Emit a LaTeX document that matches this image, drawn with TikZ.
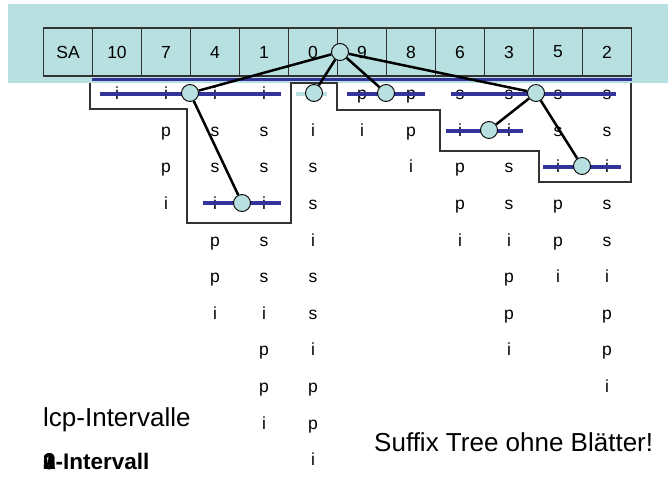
\documentclass[tikz,border=0pt]{standalone}
\usepackage{fontspec}
\setmainfont{Liberation Sans}
\definecolor{bgteal}{HTML}{B9E0E1}
\definecolor{ivblue}{HTML}{333399}
\definecolor{framegray}{HTML}{333333}
\tikzset{
  cell/.style={draw=framegray, line width=1.2pt, minimum width=49pt, minimum height=48pt,
    inner sep=0pt, font=\fontsize{17.5}{20}\selectfont},
  letter/.style={anchor=mid, inner sep=0pt, font=\fontsize{17.5}{20}\selectfont},
  ivline/.style={ivblue, line width=3.6pt},
  frame/.style={draw=framegray, line width=1.2pt},
  knot/.style={circle, draw=black, line width=0.9pt, fill=bgteal, minimum size=17pt, inner sep=0pt},
  edge/.style={black, line width=2.5pt},
  caption/.style={anchor=base west, inner sep=0pt, font=\fontsize{26}{30}\selectfont}
}
\begin{document}
\begin{tikzpicture}[x=1pt,y=-1pt]
\useasboundingbox (0,0) rectangle (670,478);
% header band and suffix array
\fill[bgteal] (8,4) rectangle (668,83);
\foreach \v [count=\i from 0] in {SA,10,7,4,1,0,9,8,6,3,5,2}
  \node[cell] (c\i) at ({68+49*\i},52) {\v};
% suffixes of mississippi, one column per SA entry
\foreach \col/\word in {1/{i}, 2/{i,p,p,i}, 3/{i,s,s,i,p,p,i}, 4/{i,s,s,i,s,s,i,p,p,i},
    5/{m,i,s,s,i,s,s,i,p,p,i}, 6/{p,i}, 7/{p,p,i}, 8/{s,i,p,p,i}, 9/{s,i,s,s,i,p,p,i},
    10/{s,s,i,p,p,i}, 11/{s,s,i,s,s,i,p,p,i}}
  \foreach \ch [count=\r] in \word
    \node[letter] (s\col-\r) at ({68+49*\col},{97+36.6*(\r-1)}) {\ch};
% lcp intervals
\draw[ivline] (92,79.5) -- (632,79.5);
\draw[ivline] (100,94) -- (281,94);
\draw[bgteal, line width=3.6pt] (296,94) -- (327,94);
\draw[ivline] (347,94) -- (425,94);
\draw[ivline] (451,94) -- (616,94);
\draw[ivline] (446,131) -- (523,131);
\draw[ivline] (543,167) -- (621,167);
\draw[ivline] (203,203) -- (281,203);
% outline of the intervals
\draw[frame] (90,83) -- (90,109) -- (187,109) -- (187,223) -- (291,223) -- (291,83)
  -- (337,83) -- (337,110) -- (440,110) -- (440,151) -- (539,151) -- (539,182)
  -- (631,182) -- (631,83);
% tree nodes
\node[knot] (root) at (340,52) {};
\node[knot] (ni) at (190,93) {};
\node[knot] (nm) at (314,93) {};
\node[knot] (np) at (386,93) {};
\node[knot] (ns) at (536,93) {};
\node[knot] (nsi) at (489,130) {};
\node[knot] (nss) at (582,166) {};
\node[knot] (nis) at (242,203) {};
% tree edges
\draw[edge] (root) -- (ni);
\draw[edge] (root) -- (nm);
\draw[edge] (root) -- (np);
\draw[edge] (root) -- (ns);
\draw[edge] (ni) -- (nis);
\draw[edge] (ns) -- (nsi);
\draw[edge] (ns) -- (nss);
% captions
\node[caption] (lcp) at (43,427) {lcp-Intervalle};
\node[caption] (stree) at (374,452) {Suffix Tree ohne Blätter!};
\node[caption, font=\fontsize{22.5}{26}\selectfont\bfseries] (kiv) at (43,470)
  {\rlap{0}\rlap{1}\rlap{2}3-Intervall};
\end{tikzpicture}
\end{document}
